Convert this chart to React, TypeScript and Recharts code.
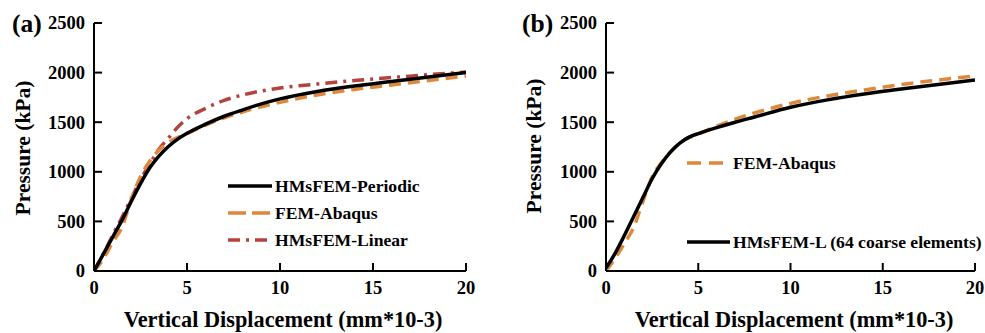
import React from "react";
import { LineChart, Line, XAxis, YAxis } from "recharts";

// panel (a)
const aPeriodic = [
  [0, 0], [0.5, 170], [1, 340], [1.5, 510], [2, 700], [2.5, 880], [3, 1040], [3.5, 1160],
  [4, 1255], [4.5, 1330], [5, 1388], [6, 1480], [7, 1560], [8, 1625], [9, 1685], [10, 1735],
  [12, 1810], [14, 1865], [16, 1910], [18, 1955], [20, 2000],
];
const aAbaqus = [
  [0, 0], [0.5, 120], [1, 290], [1.5, 440], [2, 720], [2.5, 950], [3, 1110], [3.5, 1220],
  [4, 1295], [5, 1385], [6, 1470], [7, 1545], [8, 1605], [10, 1700], [12, 1775], [14, 1830],
  [16, 1875], [18, 1920], [20, 1965],
];
const aLinear = [
  [0, 0], [0.5, 170], [1, 360], [1.5, 540], [2, 730], [2.5, 920], [3, 1080], [3.5, 1230],
  [4, 1340], [4.5, 1450], [5, 1535], [6, 1640], [7, 1720], [8, 1775], [9, 1815], [10, 1845],
  [12, 1885], [14, 1920], [16, 1950], [18, 1980], [20, 2005],
];

// panel (b)
const bHmsfemL = [
  [0, 30], [0.5, 180], [1, 360], [1.5, 550], [2, 740], [2.5, 930], [3, 1080], [3.5, 1200],
  [4, 1290], [4.5, 1350], [5, 1385], [6, 1445], [7, 1500], [8, 1550], [10, 1650], [12, 1725],
  [14, 1785], [16, 1835], [18, 1880], [20, 1925],
];
const bAbaqus = [
  [0, 0], [0.5, 130], [1, 280], [1.5, 440], [2, 700], [2.5, 950], [3, 1090], [3.5, 1200],
  [4, 1290], [5, 1380], [6, 1460], [7, 1530], [8, 1590], [10, 1690], [12, 1765], [14, 1825],
  [16, 1880], [18, 1925], [20, 1965],
];

const xTicks = [0, 5, 10, 15, 20];
const yTicks = [0, 500, 1000, 1500, 2000, 2500];

const FONT = "'Liberation Serif', 'Times New Roman', Times, serif";
const ORANGE = "#E0883A";
const RED = "#B3433D";

const toPts = (arr: number[][]) => arr.map(([x, y]) => ({ x, y }));

const txt = { fontFamily: FONT, fontWeight: 700, fill: "#000" } as const;

const YTick = (props: any) => {
  const { x, y, payload } = props;
  return (
    <g>
      <line x1={x + 8} x2={x + 16} y1={y} y2={y} stroke="#000" strokeWidth={2} />
      <text x={x - 1} y={y} dy="0.35em" textAnchor="end" fontSize={18.5} style={txt}>
        {payload.value}
      </text>
    </g>
  );
};

const XTick = (props: any) => {
  const { x, y, payload } = props;
  return (
    <g>
      <line x1={x} x2={x} y1={y} y2={y - 8} stroke="#000" strokeWidth={2} />
      <text x={x} y={y + 23} textAnchor="middle" fontSize={18.5} style={txt}>
        {payload.value}
      </text>
    </g>
  );
};

function Panel({ width, margin, children }: any) {
  return (
    <LineChart width={width} height={333} margin={margin} style={{ fontFamily: FONT }}>
      <XAxis
        type="number"
        dataKey="x"
        domain={[0, 20]}
        ticks={xTicks}
        height={30}
        tickSize={0}
        tickMargin={0}
        axisLine={{ stroke: "#000", strokeWidth: 2 }}
        tick={(p: any) => <XTick {...p} />}
        interval={0}
        allowDataOverflow
      />
      <YAxis
        type="number"
        dataKey="y"
        domain={[0, 2500]}
        ticks={yTicks}
        width={40}
        tickSize={0}
        tickMargin={8}
        axisLine={{ stroke: "#000", strokeWidth: 2 }}
        tick={(p: any) => <YTick {...p} />}
        interval={0}
        allowDataOverflow
      />
      {children}
    </LineChart>
  );
}

export default function App() {
  return (
    <div style={{ position: "absolute", left: 0, top: 0, width: 985, height: 333, background: "#fff", fontFamily: FONT }}>
      <div style={{ position: "absolute", left: 0, top: 0 }}>
        <Panel width={490} margin={{ top: 23, right: 24, bottom: 32, left: 54 }}>
          <Line data={toPts(aLinear)} dataKey="y" type="monotone" stroke={RED} strokeWidth={3.5} strokeDasharray="12 6 3 6" dot={false} isAnimationActive={false} />
          <Line data={toPts(aAbaqus)} dataKey="y" type="monotone" stroke={ORANGE} strokeWidth={3.5} strokeDasharray="12 7" dot={false} isAnimationActive={false} />
          <Line data={toPts(aPeriodic)} dataKey="y" type="monotone" stroke="#000" strokeWidth={3.5} dot={false} isAnimationActive={false} />
        </Panel>
      </div>
      <div style={{ position: "absolute", left: 500, top: 0 }}>
        <Panel width={485} margin={{ top: 23, right: 10, bottom: 32, left: 66 }}>
          <Line data={toPts(bAbaqus)} dataKey="y" type="monotone" stroke={ORANGE} strokeWidth={3.5} strokeDasharray="12 7" dot={false} isAnimationActive={false} />
          <Line data={toPts(bHmsfemL)} dataKey="y" type="monotone" stroke="#000" strokeWidth={3.5} dot={false} isAnimationActive={false} />
        </Panel>
      </div>
      <svg width={985} height={333} style={{ position: "absolute", left: 0, top: 0, pointerEvents: "none" }}>
        {/* panel labels */}
        <text x={12} y={32} fontSize={25.5} style={txt}>(a)</text>
        <text x={522} y={32} fontSize={25.5} style={txt}>(b)</text>
        {/* axis titles */}
        <text x={283} y={327} fontSize={22.3} textAnchor="middle" style={txt}>Vertical Displacement (mm*10-3)</text>
        <text x={794} y={327} fontSize={22.3} textAnchor="middle" style={txt}>Vertical Displacement (mm*10-3)</text>
        <text transform="translate(30,148) rotate(-90)" fontSize={21.5} textAnchor="middle" style={txt}>Pressure (kPa)</text>
        <text transform="translate(541,146) rotate(-90)" fontSize={21.5} textAnchor="middle" style={txt}>Pressure (kPa)</text>
        {/* legend (a) */}
        <line x1={228} x2={272} y1={186} y2={186} stroke="#000" strokeWidth={3.5} />
        <text x={275} y={186} dy="0.35em" fontSize={17.6} style={txt}>HMsFEM-Periodic</text>
        <line x1={228} x2={272} y1={213} y2={213} stroke={ORANGE} strokeWidth={3.5} strokeDasharray="18 6" />
        <text x={275} y={213} dy="0.35em" fontSize={17.6} style={txt}>FEM-Abaqus</text>
        <line x1={228} x2={272} y1={240} y2={240} stroke={RED} strokeWidth={3.5} strokeDasharray="12 6 3 6" />
        <text x={275} y={240} dy="0.35em" fontSize={17.6} style={txt}>HMsFEM-Linear</text>
        {/* legend (b) */}
        <line x1={687} x2={727} y1={163} y2={163} stroke={ORANGE} strokeWidth={3.5} strokeDasharray="14 8" />
        <text x={733} y={163} dy="0.35em" fontSize={17.6} style={txt}>FEM-Abaqus</text>
        <line x1={687} x2={730} y1={242} y2={242} stroke="#000" strokeWidth={3.5} />
        <text x={733} y={242} dy="0.35em" fontSize={17.6} style={txt}>HMsFEM-L (64 coarse elements)</text>
      </svg>
    </div>
  );
}
